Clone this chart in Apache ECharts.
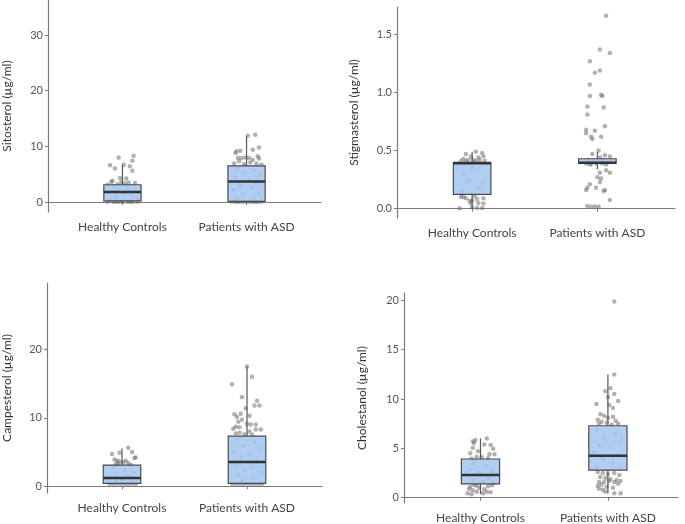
<!DOCTYPE html>
<html lang="en">
<head>
    <meta charset="UTF-8">
    <title>sterols</title>
    <script src="https://cdn.jsdelivr.net/npm/echarts@6/dist/echarts.min.js"></script>
    <style>
        body { margin: 0; background: #fff; }
        #chart { width: 685px; height: 524px; }
    </style>
</head>
<body>
    <div id="chart"></div>
    <script>
        var groups = ['Healthy Controls', 'Patients with ASD'];
        var sterols = ['Sitosterol (µg/ml)', 'Stigmasterol (µg/ml)', 'Campesterol (µg/ml)', 'Cholestanol (µg/ml)'];

        // y tick labels per panel
        var yTicks1 = [0, 10, 20, 30];
        var yTicks2 = [0, 0.5, 1, 1.5];
        var yTicks3 = [0, 10, 20];
        var yTicks4 = [0, 5, 10, 15, 20];

        // box stats: [low, q1, median, q3, high]
        var sitoBox = [[0, 0.2, 1.8, 3.1, 6.7], [0, 0.1, 3.7, 6.5, 11.8]];
        var stigBox = [[0, 0.124, 0.392, 0.40, 0.49], [0.34, 0.39, 0.395, 0.43, 0.49]];
        var campBox = [[0.3, 0.4, 1.2, 3.07, 5.5], [0.3, 0.4, 3.55, 7.3, 17.5]];
        var cholBox = [[0.37, 1.39, 2.3, 3.92, 6.0], [0.45, 2.8, 4.25, 7.29, 12.5]];

        // jittered points: [group position, value]
        var sitoHC = [[0.97,8.0],[1.09,8.3],[1.08,7.4],[0.90,6.6],[0.94,6.0],[1.06,6.4],[1.01,6.7],[1.08,5.6],[0.98,4.3],[1.03,4.2],
            [0.99,3.6],[0.91,3.6],[0.92,3.8],[1.05,3.5],[1.10,3.4],[1.02,3.3],[0.96,3.2],[0.88,3.1],
            [0.93,2.8],[1.04,2.5],[0.97,2.2],[1.10,2.0],[0.89,1.7],[1.01,1.5],[1.07,1.2],[0.95,0.9],[1.12,0.6],[0.90,0.4],
            [0.88,0.05],[0.93,0],[0.97,0.05],[1.00,0],[1.04,0.05],[1.08,0],[1.12,0.05],[0.95,0.1],[1.06,0.1]];
        var sitoASD = [[2.01,11.9],[2.07,12.1],[2.10,9.8],[2.05,9.4],[1.92,9.1],[1.95,9.2],[1.91,8.8],[2.09,8.2],[2.10,7.8],[1.93,7.9],
            [1.96,7.9],[1.99,8.0],[2.02,7.9],[2.05,7.6],[1.94,7.3],[2.03,7.1],[1.90,6.9],[1.98,6.8],[2.08,6.9],[2.12,6.7],
            [1.93,6.0],[2.06,5.6],[1.98,5.2],[2.11,4.8],[1.91,4.4],[2.02,4.0],[2.08,3.4],[1.95,3.0],[2.04,2.6],[1.90,2.2],
            [2.10,1.8],[1.97,1.4],[2.06,1.0],[1.92,0.6],
            [1.88,0.05],[1.91,0],[1.94,0.05],[1.97,0],[2.00,0.05],[2.03,0],[2.06,0.05],[2.09,0],[2.12,0.05],[1.93,0.1],[2.07,0.1]];
        var stigHC = [[0.95,0.47],[1.03,0.49],[1.08,0.48],[1.09,0.45],[0.99,0.45],[1.05,0.44],[0.93,0.43],[0.97,0.42],[1.01,0.42],
            [1.06,0.42],[0.91,0.41],[1.10,0.41],[0.95,0.41],[1.03,0.41],
            [0.93,0.30],[1.00,0.35],[0.96,0.23],[1.09,0.22],[0.98,0.25],[1.05,0.18],[0.92,0.15],
            [0.91,0.10],[0.95,0.09],[0.98,0.066],[1.00,0.07],[0.99,0.046],[1.04,0.083],[1.09,0.09],[1.05,0.05],[1.09,0.045],
            [1.00,0.012],[1.04,0.008],[1.08,0.005],[0.90,0.003],[0.93,0.10],[1.02,0.11]];
        var stigASD = [[2.07,1.66],[2.02,1.37],[2.10,1.34],[1.94,1.27],[1.98,1.17],[2.02,1.19],[1.94,1.07],[1.94,0.97],[2.03,0.98],
            [2.04,0.97],[1.92,0.88],[2.05,0.87],[1.92,0.81],[2.06,0.71],[1.91,0.68],[1.98,0.67],[1.91,0.65],[1.95,0.62],
            [1.96,0.60],[2.03,0.62],[2.01,0.50],[1.96,0.47],[2.10,0.45],[2.06,0.46],[2.02,0.44],
            [1.93,0.42],[1.97,0.41],[2.00,0.40],[2.04,0.39],[2.08,0.40],[1.91,0.39],[1.95,0.385],[1.99,0.39],[2.03,0.40],
            [2.07,0.38],[2.11,0.41],[1.94,0.38],[2.05,0.42],
            [2.07,0.33],[2.10,0.31],[2.02,0.31],[2.00,0.27],[2.03,0.26],[2.02,0.23],[1.94,0.21],[1.92,0.18],[1.91,0.16],
            [1.99,0.18],[2.06,0.16],[2.05,0.15],[2.10,0.075],[1.92,0.023],[1.95,0.017],[1.98,0.02],[2.01,0.017]];
        var campHC = [[1.05,5.6],[1.08,5.0],[0.98,4.9],[0.92,4.7],[1.11,4.2],[1.10,4.1],[0.94,3.9],[0.96,3.7],[0.98,3.6],[1.03,3.7],
            [1.05,3.4],[1.01,3.5],[0.97,3.3],[0.95,3.2],[1.07,3.1],
            [0.93,2.7],[1.02,2.4],[1.09,2.0],[0.96,1.8],[1.05,1.5],[0.91,1.3],[1.00,1.0],[1.08,0.8],[0.95,0.6],
            [0.90,0.35],[0.93,0.3],[0.96,0.35],[0.99,0.3],[1.02,0.35],[1.05,0.3],[1.08,0.35],[1.11,0.3]];
        var campASD = [[2.00,17.5],[2.04,16.0],[1.88,14.9],[1.96,13.0],[2.08,12.5],[2.06,11.8],[2.10,11.8],[1.99,11.4],[1.90,10.5],
            [1.95,10.6],[1.92,10.1],[2.02,10.3],[1.96,9.7],[1.93,9.4],[1.91,8.7],[1.94,8.6],[2.00,9.1],[2.03,9.0],[2.07,9.0],
            [2.07,8.3],[2.11,8.3],[1.89,8.4],[2.02,8.0],[1.91,7.7],[1.94,7.8],[2.04,7.5],[1.98,7.6],
            [1.92,6.8],[2.06,6.3],[1.97,5.9],[2.10,5.5],[1.89,5.0],[2.02,4.6],[1.95,4.2],[2.08,3.8],[1.91,3.2],[2.04,2.8],
            [1.98,2.3],[2.11,2.0],[1.93,1.6],[2.05,1.2],[1.96,0.9],
            [1.88,0.35],[1.91,0.3],[1.94,0.35],[1.97,0.3],[2.00,0.35],[2.03,0.3],[2.06,0.35],[2.09,0.3],[2.12,0.35]];
        var cholHC = [[1.05,6.0],[0.96,5.85],[0.94,5.7],[0.95,5.55],[1.08,5.35],[1.03,5.4],[0.94,5.05],[1.10,4.95],[0.98,4.7],
            [0.92,4.5],[1.07,4.4],[1.11,4.4],[0.97,4.15],[1.06,4.0],[1.01,4.1],[0.93,3.95],
            [0.95,3.5],[1.04,3.2],[0.92,2.9],[1.09,2.6],[0.99,2.4],[1.06,2.0],[0.94,1.8],[1.02,1.6],[1.10,1.5],
            [0.97,1.2],[1.06,1.15],[0.92,1.1],[0.99,1.0],[0.91,0.9],[1.03,0.85],[0.94,0.75],[0.97,0.6],[1.08,0.55],
            [0.90,0.45],[1.02,0.45],[0.93,0.35],[1.05,0.6],[0.95,1.3],[1.09,1.25]];
        var cholASD = [[2.05,19.9],[2.05,12.5],[2.02,11.1],[1.98,10.8],[2.05,10.5],[2.00,10.2],[1.91,9.5],[2.08,9.8],[2.01,9.4],
            [2.04,9.1],[1.94,8.45],[1.97,8.3],[2.00,8.1],[2.04,8.2],[1.92,7.9],[1.95,7.7],[1.99,7.6],[2.06,7.8],[1.93,7.5],
            [2.03,7.4],[2.08,7.5],
            [1.91,6.9],[2.06,6.5],[1.97,6.1],[2.10,5.7],[1.93,5.3],[2.02,5.0],[1.89,4.6],[2.08,4.3],[1.96,3.9],[2.04,3.5],
            [1.91,3.1],[2.10,3.0],
            [1.92,2.6],[1.96,2.5],[2.00,2.4],[2.05,2.5],[2.09,2.3],[1.94,2.1],[1.98,2.0],[2.02,1.9],[2.07,1.8],[2.10,1.7],
            [1.93,1.6],[1.97,1.6],[2.01,1.7],[2.05,1.6],[1.95,1.3],[1.99,1.1],[2.04,1.0],[1.93,0.9],[1.96,0.8],[2.08,1.4],
            [2.05,0.45],[2.10,0.45],[1.98,0.6],[1.92,1.2]];

        var panels = [
            { name: sterols[0], box: sitoBox, pts: [sitoHC, sitoASD], ticks: yTicks1, dec: 0, yMin: -1.8, yMax: 36.3, xMax: 2.6,
              grid: { left: 41, top: 0, width: 280, height: 212 }, gap: 35 },
            { name: sterols[1], box: stigBox, pts: [stigHC, stigASD], ticks: yTicks2, dec: 1, yMin: -0.08, yMax: 1.736, xMax: 2.62,
              grid: { left: 397, top: 7, width: 278, height: 211 }, gap: 37 },
            { name: sterols[2], box: campBox, pts: [campHC, campASD], ticks: yTicks3, dec: 0, yMin: -1.0, yMax: 29.7, xMax: 2.6,
              grid: { left: 42, top: 283, width: 280, height: 210 }, gap: 34 },
            { name: sterols[3], box: cholBox, pts: [cholHC, cholASD], ticks: yTicks4, dec: 0, yMin: -0.54, yMax: 20.75, xMax: 2.55,
              grid: { left: 404, top: 293, width: 274, height: 210 }, gap: 36 }
        ];

        var font = 'Lato';
        var axisColor = '#7a7a7a';
        var grids = [], xAxes = [], yAxes = [], series = [];

        function renderBox(params, api) {
            var x = api.value(0);
            var w = api.size([0.3, 0])[0];
            var low = api.coord([x, api.value(1)]);
            var q1 = api.coord([x, api.value(2)]);
            var med = api.coord([x, api.value(3)]);
            var q3 = api.coord([x, api.value(4)]);
            var high = api.coord([x, api.value(5)]);
            var lineStyle = { stroke: '#555', lineWidth: 1.2 };
            return {
                type: 'group',
                children: [
                    { type: 'line', shape: { x1: high[0], y1: high[1], x2: q3[0], y2: q3[1] }, style: lineStyle },
                    { type: 'line', shape: { x1: q1[0], y1: q1[1], x2: low[0], y2: low[1] }, style: lineStyle },
                    { type: 'rect', shape: { x: q3[0] - w / 2, y: q3[1], width: w, height: q1[1] - q3[1] },
                      style: { fill: 'rgba(166,198,240,0.88)', stroke: '#4a4a4a', lineWidth: 1.2 } },
                    { type: 'line', shape: { x1: med[0] - w / 2, y1: med[1], x2: med[0] + w / 2, y2: med[1] },
                      style: { stroke: '#333', lineWidth: 2.5 } }
                ]
            };
        }

        panels.forEach(function (p, i) {
            grids.push(p.grid);
            xAxes.push({
                type: 'value', gridIndex: i, min: 0.4, max: p.xMax,
                splitLine: { show: false },
                axisLine: { show: true, lineStyle: { color: axisColor, width: 1.2 } },
                axisTick: { show: true, length: 3, customValues: [1, 2], lineStyle: { color: axisColor } },
                axisLabel: {
                    customValues: [1, 2], margin: 9, color: '#444', fontFamily: font, fontSize: 12,
                    formatter: function (v) { return groups[Math.round(v) - 1]; }
                }
            });
            yAxes.push({
                type: 'value', gridIndex: i, min: p.yMin, max: p.yMax,
                name: p.name, nameLocation: 'middle', nameGap: p.gap, nameRotate: 90,
                nameTextStyle: { color: '#333', fontFamily: font, fontSize: 12 },
                splitLine: { show: false },
                axisLine: { show: true, lineStyle: { color: axisColor, width: 1.2 } },
                axisTick: { show: true, length: 3, customValues: p.ticks, lineStyle: { color: axisColor } },
                axisLabel: {
                    customValues: p.ticks, margin: 5, color: '#555', fontFamily: font, fontSize: 11,
                    formatter: function (v) { return Number(v).toFixed(p.dec); }
                }
            });
            p.pts.forEach(function (pts) {
                series.push({
                    type: 'scatter', xAxisIndex: i, yAxisIndex: i, data: pts,
                    symbolSize: 4.5, z: 2, silent: true,
                    itemStyle: { color: 'rgba(105,105,105,0.65)' }
                });
            });
            series.push({
                type: 'custom', xAxisIndex: i, yAxisIndex: i, z: 3, silent: true,
                renderItem: renderBox,
                encode: { x: 0, y: [1, 2, 3, 4, 5] },
                data: [[1].concat(p.box[0]), [2].concat(p.box[1])]
            });
        });

        var chart = echarts.init(document.getElementById('chart'));
        chart.setOption({
            backgroundColor: '#fff',
            animation: false,
            grid: grids,
            xAxis: xAxes,
            yAxis: yAxes,
            series: series
        });
    </script>
</body>
</html>
